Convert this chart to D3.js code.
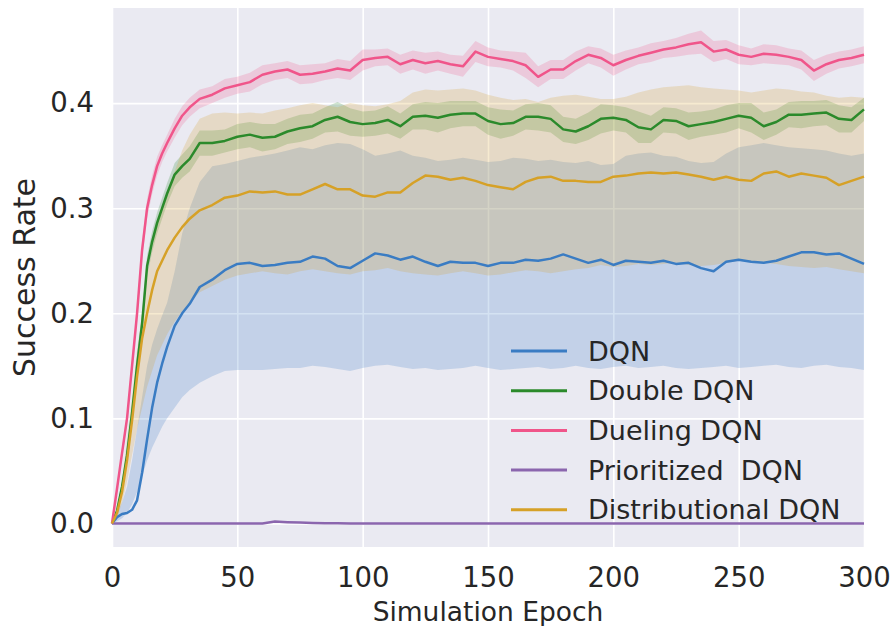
<!DOCTYPE html>
<html>
<head>
<meta charset="utf-8">
<script src="https://cdn.jsdelivr.net/npm/d3@7"></script>
<style>
  body { margin: 0; background: #fff; }
  text { font-family: "DejaVu Sans", sans-serif; fill: #262626; }
</style>
</head>
<body>
<svg width="895" height="626"></svg>
<script>
// epochs (finer at the start where curves rise fast)
var epochs = [0,2,4,6,8,10,12,14,16,18,20,22,25,28,31,
  35,40,45,50,55,60,65,70,75,80,
  85,90,95,100,105,110,115,120,125,130,
  135,140,145,150,155,160,165,170,175,180,
  185,190,195,200,205,210,215,220,225,230,
  235,240,245,250,255,260,265,270,275,280,
  285,290,295,300]

var names = ["DQN", "Double DQN", "Dueling DQN", "Prioritized  DQN", "Distributional DQN"]
var colors = ["#3a7cc3", "#2b8a2b", "#f0558a", "#8b66ae", "#d6a127"]

var dqnMean = [0,0.006,0.009,0.010,0.013,0.022,0.048,0.080,0.110,0.134,0.152,0.168,0.188,0.200,0.209,
  0.225,0.232,0.241,0.247,0.248,0.245,0.246,0.248,0.249,0.254,
  0.252,0.245,0.243,0.250,0.257,0.255,0.251,0.254,0.249,0.245,
  0.249,0.248,0.248,0.245,0.248,0.248,0.251,0.250,0.252,0.256,
  0.252,0.248,0.251,0.246,0.250,0.249,0.248,0.250,0.247,0.248,
  0.243,0.240,0.249,0.251,0.249,0.248,0.250,0.254,0.258,0.258,
  0.256,0.257,0.252,0.247]
var dqnLow = [0,0.002,0.005,0.010,0.018,0.030,0.045,0.060,0.072,0.082,0.092,0.100,0.110,0.120,0.127,
  0.134,0.140,0.145,0.146,0.146,0.146,0.147,0.148,0.148,0.150,
  0.149,0.147,0.145,0.148,0.150,0.151,0.149,0.147,0.148,0.146,
  0.147,0.148,0.150,0.148,0.146,0.147,0.148,0.149,0.147,0.148,
  0.150,0.148,0.147,0.149,0.150,0.148,0.149,0.150,0.148,0.147,
  0.148,0.149,0.150,0.148,0.149,0.150,0.151,0.149,0.148,0.150,
  0.151,0.149,0.148,0.146]
var dqnHigh = [0,0.010,0.020,0.035,0.060,0.090,0.120,0.150,0.170,0.185,0.198,0.210,0.240,0.276,0.300,
  0.325,0.340,0.342,0.345,0.348,0.350,0.352,0.355,0.358,0.356,
  0.360,0.362,0.361,0.356,0.350,0.352,0.355,0.350,0.348,0.345,
  0.346,0.348,0.346,0.344,0.345,0.348,0.347,0.345,0.346,0.344,
  0.343,0.345,0.341,0.342,0.350,0.352,0.353,0.350,0.349,0.345,
  0.343,0.344,0.352,0.358,0.360,0.362,0.360,0.358,0.357,0.356,
  0.355,0.352,0.350,0.352]

var doubleMean = [0,0.012,0.035,0.065,0.105,0.150,0.190,0.245,0.268,0.286,0.300,0.314,0.332,0.340,0.347,
  0.362,0.362,0.364,0.368,0.370,0.367,0.368,0.373,0.376,0.378,
  0.384,0.387,0.382,0.380,0.381,0.384,0.378,0.387,0.388,0.386,
  0.389,0.390,0.390,0.383,0.380,0.381,0.387,0.387,0.385,0.375,
  0.373,0.378,0.385,0.386,0.384,0.377,0.375,0.384,0.383,0.378,
  0.380,0.382,0.385,0.388,0.386,0.378,0.382,0.389,0.389,0.390,
  0.391,0.385,0.384,0.394]
var doubleSpread = [0,0.002,0.004,0.006,0.008,0.010,0.010,0.010,0.010,0.010,0.010,0.010,0.011,0.011,0.012,
  0.012,0.012,0.011,0.012,0.012,0.013,0.012,0.012,0.013,0.012,
  0.012,0.014,0.013,0.012,0.012,0.013,0.012,0.012,0.013,0.014,
  0.013,0.012,0.012,0.013,0.014,0.012,0.012,0.013,0.013,0.012,
  0.012,0.013,0.014,0.012,0.012,0.015,0.013,0.012,0.012,0.013,
  0.012,0.012,0.013,0.012,0.014,0.013,0.012,0.012,0.013,0.012,
  0.012,0.013,0.012,0.011]

var duelMean = [0,0.033,0.067,0.100,0.150,0.200,0.260,0.300,0.322,0.340,0.352,0.362,0.376,0.388,0.396,
  0.404,0.408,0.414,0.417,0.420,0.427,0.430,0.432,0.427,0.428,
  0.430,0.433,0.431,0.441,0.443,0.444,0.437,0.441,0.438,0.440,
  0.437,0.435,0.449,0.444,0.442,0.440,0.436,0.425,0.432,0.432,
  0.440,0.446,0.443,0.436,0.441,0.445,0.448,0.451,0.453,0.456,
  0.458,0.449,0.451,0.446,0.444,0.447,0.446,0.444,0.441,0.431,
  0.437,0.441,0.443,0.446]
var duelSpread = [0,0.003,0.005,0.006,0.007,0.008,0.008,0.009,0.009,0.009,0.008,0.008,0.009,0.009,0.009,
  0.009,0.008,0.009,0.008,0.009,0.009,0.008,0.008,0.009,0.009,
  0.008,0.009,0.009,0.010,0.008,0.008,0.009,0.009,0.010,0.009,
  0.009,0.010,0.010,0.009,0.008,0.009,0.012,0.010,0.009,0.009,
  0.009,0.008,0.009,0.010,0.009,0.008,0.009,0.008,0.009,0.010,
  0.011,0.010,0.009,0.009,0.008,0.009,0.009,0.008,0.009,0.010,
  0.009,0.008,0.008,0.008]

var prioMean = [0,0,0,0,0,0,0,0,0,0,0,0,0,0,0,
  0,0,0,0,0,0,0.0018,0.0012,0.0008,0.0005,
  0.0003,0.0001,0,0,0,0,0,0,0,0,
  0,0,0,0,0,0,0,0,0,0,
  0,0,0,0,0,0,0,0,0,0,
  0,0,0,0,0,0,0,0,0,0,
  0,0,0,0]

var distMean = [0,0.010,0.030,0.060,0.098,0.140,0.176,0.200,0.222,0.240,0.250,0.260,0.272,0.282,0.290,
  0.298,0.303,0.310,0.312,0.316,0.315,0.316,0.313,0.313,0.318,
  0.323,0.318,0.318,0.312,0.311,0.315,0.315,0.324,0.331,0.330,
  0.327,0.329,0.326,0.322,0.320,0.318,0.325,0.329,0.330,0.326,
  0.326,0.325,0.325,0.330,0.331,0.333,0.334,0.333,0.334,0.332,
  0.330,0.327,0.330,0.327,0.326,0.333,0.335,0.330,0.333,0.331,
  0.329,0.322,0.326,0.330]
var distLow = [0,0.005,0.020,0.040,0.065,0.090,0.110,0.130,0.145,0.160,0.170,0.180,0.192,0.202,0.210,
  0.220,0.226,0.232,0.236,0.238,0.240,0.238,0.237,0.240,0.242,
  0.240,0.238,0.237,0.240,0.241,0.243,0.240,0.238,0.237,0.236,
  0.238,0.240,0.238,0.236,0.237,0.239,0.241,0.240,0.238,0.240,
  0.242,0.243,0.246,0.244,0.245,0.247,0.246,0.247,0.248,0.246,
  0.245,0.246,0.248,0.250,0.249,0.248,0.247,0.245,0.244,0.243,
  0.244,0.242,0.240,0.238]
var distHigh = [0,0.015,0.040,0.080,0.120,0.165,0.200,0.235,0.262,0.285,0.300,0.315,0.335,0.355,0.370,
  0.385,0.390,0.391,0.390,0.391,0.390,0.393,0.395,0.398,0.400,
  0.398,0.396,0.400,0.398,0.397,0.399,0.402,0.410,0.413,0.412,
  0.413,0.414,0.412,0.408,0.405,0.403,0.404,0.401,0.405,0.407,
  0.408,0.406,0.404,0.404,0.406,0.410,0.413,0.415,0.416,0.417,
  0.415,0.414,0.413,0.412,0.410,0.412,0.414,0.413,0.411,0.410,
  0.407,0.405,0.406,0.405]

var xTicks = [0, 50, 100, 150, 200, 250, 300]
var yTicks = [0.0, 0.1, 0.2, 0.3, 0.4]

function plusMinus(mean, spread, sign) {
  return mean.map(function (v, i) { return v + sign * spread[i] })
}

var series = [
  { name: names[0], color: colors[0], mean: dqnMean, lo: dqnLow, hi: dqnHigh },
  { name: names[1], color: colors[1], mean: doubleMean, lo: plusMinus(doubleMean, doubleSpread, -1), hi: plusMinus(doubleMean, doubleSpread, 1) },
  { name: names[2], color: colors[2], mean: duelMean, lo: plusMinus(duelMean, duelSpread, -1), hi: plusMinus(duelMean, duelSpread, 1) },
  { name: names[3], color: colors[3], mean: prioMean, lo: null, hi: null },
  { name: names[4], color: colors[4], mean: distMean, lo: distLow, hi: distHigh }
]

var plotL = 112, plotR = 864, plotT = 8, plotB = 547

var x = d3.scaleLinear().domain([0, 300]).range([plotL, plotR])
var y = d3.scaleLinear().domain([-0.0224, 0.4905]).range([plotB, plotT])

var svg = d3.select("svg")

svg.append("rect")
    .attr("x", plotL)
    .attr("y", plotT)
    .attr("width", plotR - plotL)
    .attr("height", plotB - plotT)
    .attr("fill", "#eaeaf2")

// white grid
var gx = svg.append("g")
    .attr("transform", "translate(0," + plotB + ")")
    .call(d3.axisBottom(x).tickValues(xTicks).tickSize(-(plotB - plotT)).tickPadding(20))
var gy = svg.append("g")
    .attr("transform", "translate(" + plotL + ",0)")
    .call(d3.axisLeft(y).tickValues(yTicks).tickFormat(d3.format(".1f")).tickSize(-(plotR - plotL)).tickPadding(18))

svg.selectAll(".domain").remove()
svg.selectAll(".tick line").attr("stroke", "#ffffff").attr("stroke-width", 1.6)
gx.selectAll(".tick text")
    .attr("font-size", 27.5)
    .attr("fill", "#262626")
gy.selectAll(".tick text")
    .attr("font-size", 27.5)
    .attr("fill", "#262626")

var area = d3.area()
    .x(function (d, i) { return x(epochs[i]) })
    .y0(function (d) { return y(d[0]) })
    .y1(function (d) { return y(d[1]) })

var line = d3.line()
    .x(function (d, i) { return x(epochs[i]) })
    .y(function (d) { return y(d) })

var plot = svg.append("g")

series.forEach(function (s) {
  if (!s.lo) return
  var band = s.lo.map(function (v, i) { return [v, s.hi[i]] })
  plot.append("path")
      .attr("d", area(band))
      .attr("fill", s.color)
      .attr("fill-opacity", 0.22)
})

series.forEach(function (s) {
  plot.append("path")
      .attr("d", line(s.mean))
      .attr("fill", "none")
      .attr("stroke", s.color)
      .attr("stroke-width", 2.5)
      .attr("stroke-linejoin", "round")
})

// axis labels
svg.append("text")
    .attr("x", (plotL + plotR) / 2)
    .attr("y", 621)
    .attr("text-anchor", "middle")
    .attr("font-size", 26.5)
    .text("Simulation Epoch")

svg.append("text")
    .attr("transform", "translate(35," + ((plotT + plotB) / 2) + ") rotate(-90)")
    .attr("text-anchor", "middle")
    .attr("font-size", 30)
    .text("Success Rate")

// legend
var legend = svg.append("g")
series.forEach(function (s, i) {
  var ly = 351 + i * 39.7
  legend.append("line")
      .attr("x1", 511).attr("x2", 567)
      .attr("y1", ly).attr("y2", ly)
      .attr("stroke", s.color)
      .attr("stroke-width", 3)
  legend.append("text")
      .attr("x", 588)
      .attr("y", ly + 9.5)
      .attr("font-size", 27)
      .style("white-space", "pre")
      .text(s.name)
})
</script>
</body>
</html>
